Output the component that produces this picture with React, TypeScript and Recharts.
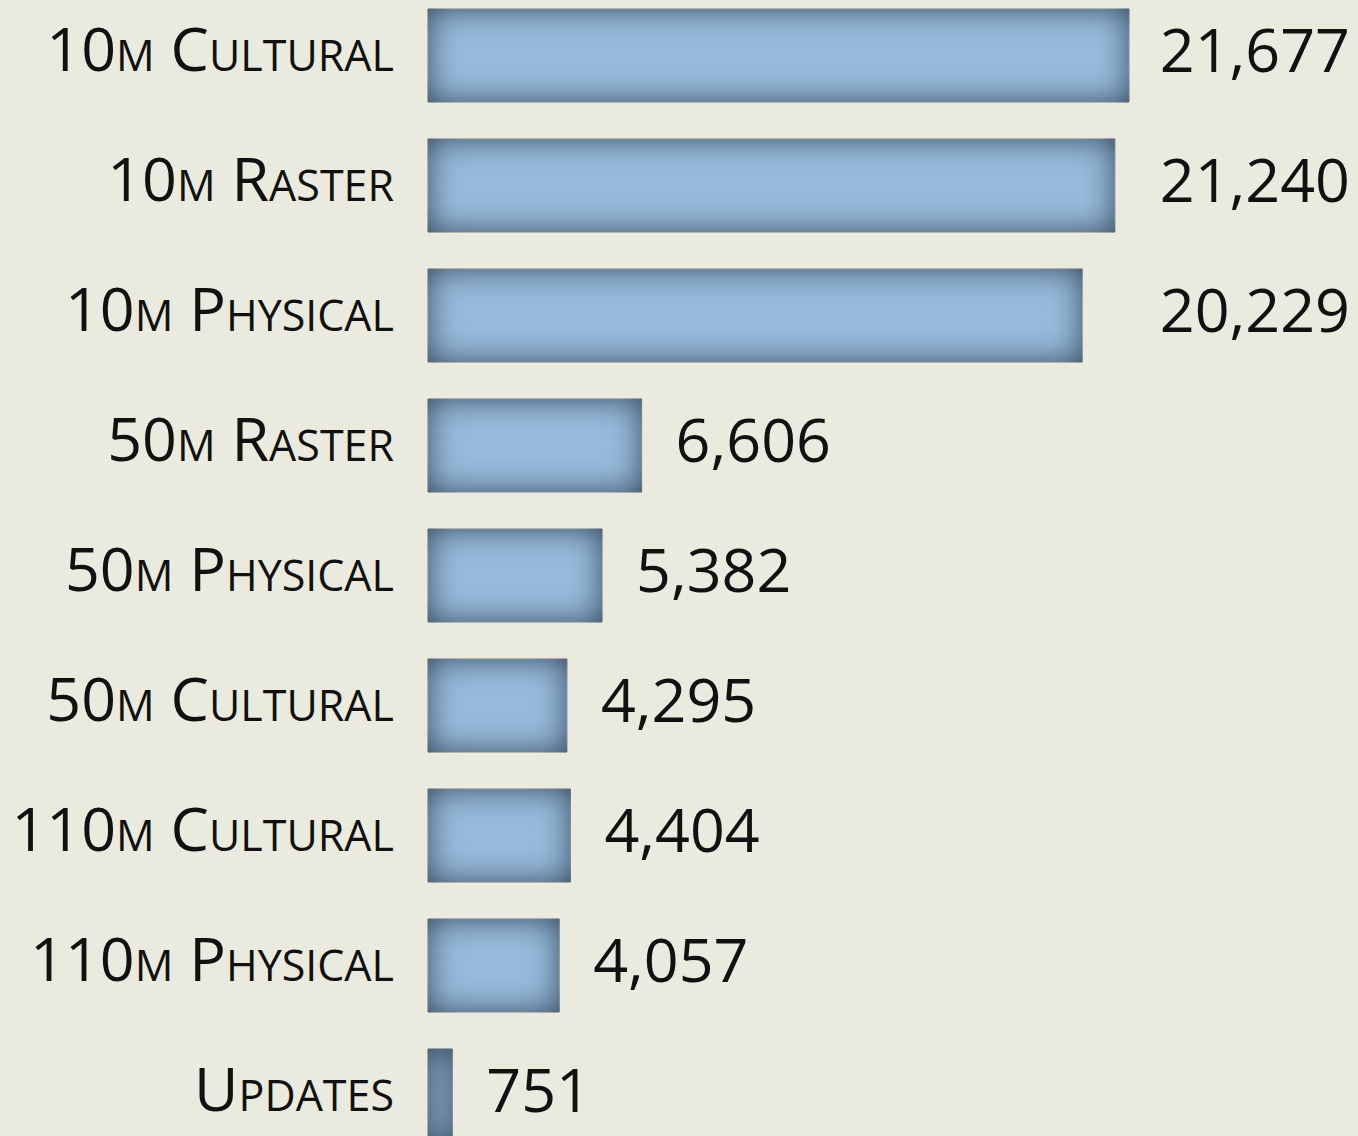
import React from "react";
import { BarChart, Bar, XAxis, YAxis, LabelList } from "recharts";

// Natural Earth download counts by package
const categories = [
  "10m Cultural",
  "10m Raster",
  "10m Physical",
  "50m Raster",
  "50m Physical",
  "50m Cultural",
  "110m Cultural",
  "110m Physical",
  "Updates",
];
const downloads = [21677, 21240, 20229, 6606, 5382, 4295, 4404, 4057, 751];
const xMax = 28760;

const chartData = categories.map((name, i) => ({ name, downloads: downloads[i] }));

const FONT = "'Open Sans', 'Noto Sans', sans-serif";

const CategoryTick = (props: any) => {
  const { x, y, payload } = props;
  return (
    <text
      x={x}
      y={y + 16}
      textAnchor="end"
      fontSize={61}
      fontFamily={FONT}
      fill="#111"
      style={{ fontVariant: "small-caps" }}
    >
      {payload.value}
    </text>
  );
};

// long bars get their number pinned to the right edge, short ones sit just after the bar
const ValueLabel = (props: any) => {
  const { x, y, width, height, value } = props;
  const end = x + width;
  const pinRight = end > 1000;
  return (
    <text
      x={pinRight ? 1350 : end + 34}
      y={y + height / 2 + 16}
      textAnchor={pinRight ? "end" : "start"}
      fontSize={61}
      fontFamily={FONT}
      fill="#111"
    >
      {Number(value).toLocaleString("en-US")}
    </text>
  );
};

export default function App() {
  return (
    <div
      style={{
        position: "fixed",
        left: 0,
        top: 0,
        width: 1358,
        height: 1136,
        overflow: "hidden",
        background: "#ebeade",
      }}
    >
      <div style={{ position: "absolute", left: 0, top: -10 }}>
        <BarChart
          width={1358}
          height={1170}
          data={chartData}
          layout="vertical"
          margin={{ top: 0, right: 0, bottom: 0, left: 0 }}
        >
          <defs>
            <filter
              id="innerShadow"
              filterUnits="userSpaceOnUse"
              x={-100}
              y={-100}
              width={1600}
              height={1400}
              colorInterpolationFilters="sRGB"
            >
              <feFlood floodColor="#34465a" />
              <feComposite in2="SourceAlpha" operator="out" />
              <feGaussianBlur stdDeviation={16} />
              <feComposite in2="SourceAlpha" operator="in" result="shadow" />
              <feMerge>
                <feMergeNode in="SourceGraphic" />
                <feMergeNode in="shadow" />
              </feMerge>
            </filter>
          </defs>
          <XAxis type="number" domain={[0, xMax]} hide />
          <YAxis
            type="category"
            dataKey="name"
            width={428}
            tickLine={false}
            axisLine={false}
            tickSize={0}
            tickMargin={34}
            tick={<CategoryTick />}
            interval={0}
          />
          <Bar
            dataKey="downloads"
            fill="#97bbdb"
            stroke="#c9ccc2"
            strokeWidth={1}
            barSize={93}
            isAnimationActive={false}
            filter="url(#innerShadow)"
          >
            <LabelList dataKey="downloads" content={<ValueLabel />} />
          </Bar>
        </BarChart>
      </div>
    </div>
  );
}
